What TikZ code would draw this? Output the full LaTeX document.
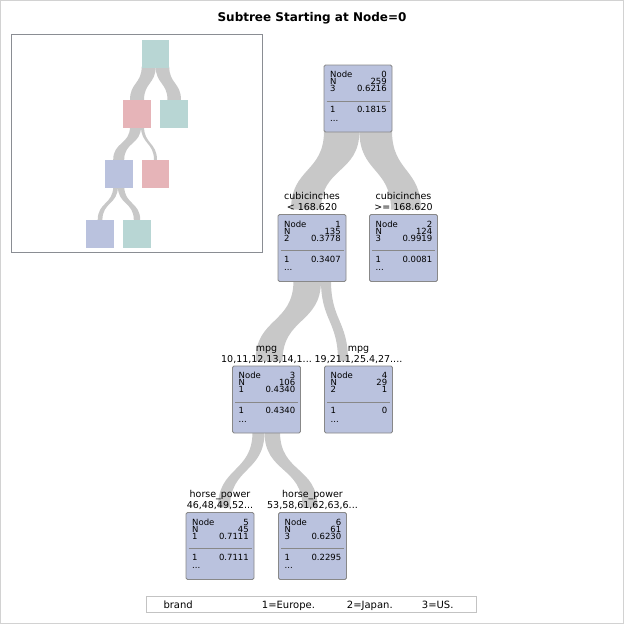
\documentclass[tikz,border=0pt]{standalone}
\usepackage{fontspec}
\setmainfont{DejaVu Sans}
\pgfdeclarelayer{bg}
\pgfsetlayers{bg,main}
\definecolor{bandc}{RGB}{200,200,200}
\definecolor{boxfill}{RGB}{186,194,222}
\definecolor{boxline}{RGB}{136,136,136}
\definecolor{ovteal}{RGB}{184,214,212}
\definecolor{ovpink}{RGB}{230,180,184}
\definecolor{ovblue}{RGB}{186,194,222}
\definecolor{framec}{RGB}{138,141,147}
\definecolor{legc}{RGB}{195,195,195}
\definecolor{outerc}{RGB}{210,210,210}
\tikzset{
 tbox/.style={draw=boxline, fill=boxfill, rounded corners=1.5pt, minimum width=68pt, minimum height=67pt, inner sep=0pt, outer sep=0pt, line width=0.8pt, anchor=north west},
 tl/.style={anchor=base west, inner sep=0pt, font=\fontsize{8.5}{9}\selectfont},
 tr/.style={anchor=base east, inner sep=0pt, font=\fontsize{8.5}{9}\selectfont},
 lab/.style={anchor=base, inner sep=0pt, font=\fontsize{9.5}{11}\selectfont},
 ovbox/.style={minimum size=27.5pt, inner sep=0pt, outer sep=0pt, anchor=north west},
 sepline/.style={draw=boxline, line width=0.7pt},
 bandfill/.style={fill=bandc},
 legtext/.style={anchor=base west, inner sep=0pt, font=\fontsize{10}{11}\selectfont},
}
\newcommand\treebox[9]{%
 \node[tbox] (#1) at (#2,#3) {};
 \draw[sepline] ([xshift=2.5pt,yshift=-36.3pt]#1.north west) -- ([xshift=-2.5pt,yshift=-36.3pt]#1.north east);
 \node[tl] (#1-a) at ([xshift=6pt,yshift=-12.5pt]#1.north west) {Node};
 \node[tr] (#1-b) at ([xshift=-5pt,yshift=-12.5pt]#1.north east) {#4};
 \node[tl] (#1-c) at ([xshift=6pt,yshift=-19.7pt]#1.north west) {N};
 \node[tr] (#1-d) at ([xshift=-5pt,yshift=-19.7pt]#1.north east) {#5};
 \node[tl] (#1-e) at ([xshift=6pt,yshift=-26.9pt]#1.north west) {#6};
 \node[tr] (#1-f) at ([xshift=-5pt,yshift=-26.9pt]#1.north east) {#7};
 \node[tl] (#1-g) at ([xshift=6pt,yshift=-47.7pt]#1.north west) {#8};
 \node[tr] (#1-h) at ([xshift=-5pt,yshift=-47.7pt]#1.north east) {#9};
 \node[tl] (#1-i) at ([xshift=6pt,yshift=-56pt]#1.north west) {...};
}
\newcommand\branchlabel[4]{%
 \node[lab] (#1-l1) at ([yshift=15pt]#2.north) {#3};
 \node[lab] (#1-l2) at ([yshift=4pt]#2.north) {#4};
}
\newcommand\band[7]{%
 \begin{pgfonlayer}{bg}
 \fill[bandfill] ([xshift=#2pt,yshift=1pt]#1.south west) to[out=-90,in=90,looseness=1.25] ([xshift=#5pt,yshift=#7pt]#4.north west) -- ([xshift=#6pt,yshift=#7pt]#4.north west) to[out=90,in=-90,looseness=1.25] ([xshift=#3pt,yshift=1pt]#1.south west) -- cycle;
 \end{pgfonlayer}}
\begin{document}
\begin{tikzpicture}[x=1pt,y=-1pt]
\useasboundingbox (0,0) rectangle (624,624);
\begin{pgfonlayer}{bg}
\fill[white] (0,0) rectangle (624,624);
\end{pgfonlayer}
\draw[outerc, line width=1pt] (0.5,0.5) rectangle (623.5,623.5);

% title
\node[anchor=base, inner sep=0pt, font=\bfseries\fontsize{12}{14}\selectfont] (title) at (312,21) {Subtree Starting at Node=0};

% overview
\node[draw=framec, line width=1pt, minimum width=251.5pt, minimum height=218pt, inner sep=0pt, outer sep=0pt, anchor=north west] (ovframe) at (11,34.5) {};
\node[ovbox, fill=ovteal] (o0) at (141.7,40) {};
\node[ovbox, fill=ovpink] (o1) at (123.3,100) {};
\node[ovbox, fill=ovteal] (o2) at (160.3,100) {};
\node[ovbox, fill=ovblue] (o3) at (105,160) {};
\node[ovbox, fill=ovpink] (o4) at (141.7,160) {};
\node[ovbox, fill=ovblue] (o5) at (86.3,220) {};
\node[ovbox, fill=ovteal] (o6) at (123.3,220) {};
\band{o0}{0}{14}{o1}{6.7}{20.7}{0}
\band{o0}{14}{27.5}{o2}{7.2}{20.7}{0}
\band{o1}{6.7}{17.7}{o3}{8.2}{19.2}{0}
\band{o1}{17.7}{20.7}{o4}{12.3}{15.3}{0}
\band{o3}{8.2}{12.9}{o5}{11.4}{16.1}{0}
\band{o3}{12.9}{19.3}{o6}{10.5}{16.9}{0}

% main tree
\treebox{n0}{324}{65}{0}{259}{3}{0.6216}{1}{0.1815}
\treebox{n1}{278}{214.5}{1}{135}{2}{0.3778}{1}{0.3407}
\treebox{n2}{369.5}{214.5}{2}{124}{3}{0.9919}{1}{0.0081}
\treebox{n3}{232.5}{366}{3}{106}{1}{0.4340}{1}{0.4340}
\treebox{n4}{324.5}{366}{4}{29}{2}{1}{1}{0}
\treebox{n5}{186}{512.5}{5}{45}{1}{0.7111}{1}{0.7111}
\treebox{n6}{278.5}{512.5}{6}{61}{3}{0.6230}{1}{0.2295}

\band{n0}{0}{35.4}{n1}{13}{43}{5}
\band{n0}{35.4}{68}{n2}{21.5}{51.5}{5}
\band{n1}{15.5}{43}{n3}{23}{50}{5}
\band{n1}{43}{53}{n4}{13.5}{23.5}{5}
\band{n3}{20}{32}{n5}{32}{44}{5}
\band{n3}{32}{47.5}{n6}{24}{39}{5}

\branchlabel{n1}{n1}{cubicinches}{< 168.620}
\branchlabel{n2}{n2}{cubicinches}{>= 168.620}
\branchlabel{n3}{n3}{mpg}{10,11,12,13,14,1...}
\branchlabel{n4}{n4}{mpg}{19,21.1,25.4,27....}
\branchlabel{n5}{n5}{horse\_power}{46,48,49,52...}
\branchlabel{n6}{n6}{horse\_power}{53,58,61,62,63,6...}

% legend
\node[draw=legc, line width=0.8pt, minimum width=330pt, minimum height=16pt, inner sep=0pt, outer sep=0pt, anchor=north west] (legend) at (146.7,596.7) {};
\node[legtext] (lg0) at (163.3,608.3) {brand};
\node[legtext] (lg1) at (261.7,608.3) {1=Europe.};
\node[legtext] (lg2) at (346.7,608.3) {2=Japan.};
\node[legtext] (lg3) at (421.7,608.3) {3=US.};
\end{tikzpicture}
\end{document}
